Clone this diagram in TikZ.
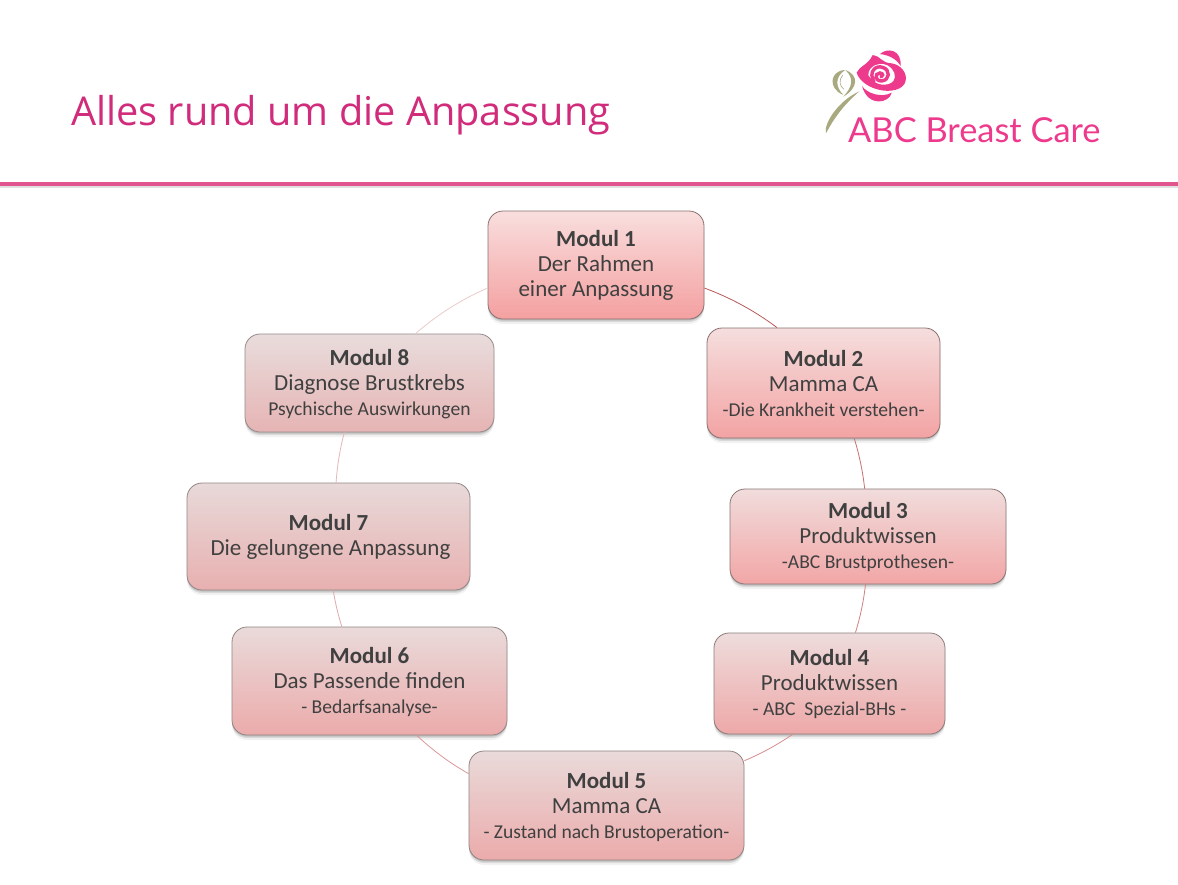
\documentclass[tikz,border=0pt]{standalone}
\usepackage{fontspec}
\setmainfont{Carlito}
\newfontfamily\titlefont{Open Sans}
\newfontfamily\logofont{Lato}
\usetikzlibrary{shadows}
\definecolor{ink}{HTML}{404040}
\definecolor{titlepink}{HTML}{D12B7C}
\definecolor{logopink}{HTML}{EE3A8C}
\definecolor{logoolive}{HTML}{A9A97F}
\definecolor{rulepink}{HTML}{E0558F}
\newcommand{\lgfont}{\fontsize{23}{25}\selectfont}
\newcommand{\smfont}{\fontsize{19.6}{25}\selectfont}
\newcommand{\topstrut}[1]{\rule{0pt}{#1pt}}
\definecolor{c1t}{HTML}{F9DEDE}\definecolor{c1b}{HTML}{F4A0A0}\definecolor{c1d}{HTML}{8A7070}
\definecolor{c2t}{HTML}{F5DEDE}\definecolor{c2b}{HTML}{F3A3A3}
\definecolor{c3t}{HTML}{F1DCDC}\definecolor{c3b}{HTML}{F2A6A6}\definecolor{c3d}{HTML}{8A7676}
\definecolor{c4t}{HTML}{EEDCDC}\definecolor{c4b}{HTML}{EEA8A8}\definecolor{c4d}{HTML}{8C7C7C}
\definecolor{c5t}{HTML}{EADADA}\definecolor{c5b}{HTML}{EBABAB}\definecolor{c5d}{HTML}{928484}
\definecolor{c7t}{HTML}{E8D9D9}\definecolor{c7b}{HTML}{E8B0B0}\definecolor{c7d}{HTML}{928686}
\definecolor{c8t}{HTML}{E9DCDC}\definecolor{c8b}{HTML}{E6B4B4}\definecolor{c8d}{HTML}{968A8A}
\definecolor{l1}{HTML}{B85A5A}\definecolor{l2}{HTML}{C87070}\definecolor{l3}{HTML}{D08080}\definecolor{l4}{HTML}{D88C8C}
\definecolor{l5}{HTML}{DC9898}\definecolor{l6}{HTML}{E0A8A8}\definecolor{l7}{HTML}{E4B8B8}\definecolor{l8}{HTML}{EBCCCC}
\tikzset{
  modbox/.style args={#1/#2/#3/#4}{rounded corners=15pt, draw=#4, line width=.8pt,
    top color=#2, bottom color=#3, minimum width=#1pt, inner sep=0pt, align=center,
    text=ink, font=\lgfont,
    drop shadow={shadow xshift=0pt,shadow yshift=-1.5pt,opacity=.12,fill=black},
    drop shadow={shadow xshift=0pt,shadow yshift=-3pt,opacity=.10,fill=black},
    drop shadow={shadow xshift=0pt,shadow yshift=-5pt,opacity=.05,fill=black}},
  link/.style={line width=.8pt, looseness=.85, bend left=#1},
}
\begin{document}
\begin{tikzpicture}[x=1pt,y=-1pt]
\useasboundingbox (0,0) rectangle (1178,884);
\fill[white] (0,0) rectangle (1178,884);
\node[anchor=base west, inner sep=0pt, text=titlepink, font=\titlefont\fontsize{39.7}{42}\selectfont] (title) at (71,125) {Alles rund um die Anpassung};
\node[anchor=base west, inner sep=0pt, text=logopink, font=\logofont\fontsize{34.4}{40}\selectfont] (logotext) at (848,142) {ABC Breast Care};
% rule
\fill[black!12] (0,185) rectangle (1178,188);
\fill[rulepink] (0,182) rectangle (1178,185.5);
% logo
\begin{scope}[shift={(800,30)},x=.3333pt,y=-.3333pt]
 \fill[logoolive] (78,310) .. controls (70,285) and (110,215) .. (178,184) .. controls (128,228) and (102,265) .. (78,310) -- cycle;
 \fill[logoolive] (135,120) .. controls (90,122) and (82,175) .. (130,195) .. controls (106,170) and (104,142) .. (135,120) -- cycle;
 \fill[logoolive] (136,120) .. controls (178,135) and (174,175) .. (130,200) .. controls (156,172) and (164,145) .. (136,120) -- cycle;
 \draw[logoolive,line width=.6pt] (128,135) .. controls (116,150) and (118,168) .. (132,178);
 \fill[logopink] (240,72) .. controls (262,52) and (305,58) .. (302,108) .. controls (290,88) and (270,76) .. (240,72) -- cycle;
 \fill[logopink] (170,128) .. controls (178,108) and (205,105) .. (218,75) .. controls (240,76) and (245,100) .. (275,100) .. controls (302,104) and (322,128) .. (317,152) .. controls (312,180) and (270,187) .. (240,180) .. controls (210,174) and (178,155) .. (170,128) -- cycle;
 \fill[white] (205,135) .. controls (205,107) and (240,95) .. (262,106) .. controls (284,118) and (290,140) .. (280,153) .. controls (265,170) and (225,170) .. (205,135) -- cycle;
 \fill[logopink] (186,168) .. controls (200,190) and (245,205) .. (275,188) .. controls (270,218) and (205,235) .. (186,168) -- cycle;
 \draw[logopink,line width=3.4pt,line cap=round] (222,155) .. controls (205,128) and (225,104) .. (248,112) .. controls (272,120) and (270,150) .. (245,153) .. controls (225,154) and (222,130) .. (240,129) .. controls (250,129) and (250,140) .. (243,141);
\end{scope}
% modules
\node[modbox={216/c1t/c1b/c1d}, minimum height=108pt] (m1) at (596,265) {\textbf{Modul 1}\\Der Rahmen\\einer Anpassung};
\node[modbox={233/c2t/c2b/c1d}, minimum height=110pt] (m2) at (823.5,383) {\textbf{Modul 2}\\Mamma CA\\\smfont -Die Krankheit verstehen-};
\node[modbox={276/c3t/c3b/c3d}, minimum height=95pt] (m3) at (868,536.5) {\topstrut{18}\textbf{Modul 3}\\Produktwissen\\\smfont -ABC Brustprothesen-};
\node[modbox={231/c4t/c4b/c4d}, minimum height=101pt] (m4) at (829.5,683.5) {\topstrut{18}\textbf{Modul 4}\\Produktwissen\\\smfont - ABC\ \ Spezial-BHs -};
\node[modbox={275/c5t/c5b/c5d}, minimum height=109pt] (m5) at (606.5,805.5) {\topstrut{19}\textbf{Modul 5}\\Mamma CA\\\smfont - Zustand nach Brustoperation-};
\node[modbox={275/c5t/c5b/c5d}, minimum height=108pt] (m6) at (369.5,681) {\topstrut{19}\textbf{Modul 6}\\Das Passende finden\\\smfont - Bedarfsanalyse-};
\node[modbox={283/c7t/c7b/c7d}, minimum height=107pt] (m7) at (328.5,536.5) {\textbf{Modul 7}\\\hspace*{4pt}Die gelungene Anpassung};
\node[modbox={249/c8t/c8b/c8d}, minimum height=98pt] (m8) at (369.5,383) {\topstrut{19}\textbf{Modul 8}\\Diagnose Brustkrebs\\\smfont Psychische Auswirkungen};
% links
\draw[link=8.4,draw=l1] (m1.-12.9) to (m2.130.9);
\draw[link=5.5,draw=l2] (m2.-61.8) to (m3.94.8);
\draw[link=5.5,draw=l3] (m3.-93.6) to (m4.63.2);
\draw[link=5.8,draw=l4] (m4.-126.6) to (m5.18.3);
\draw[link=7,draw=l5] (m5.167.5) to (m6.-49.3);
\draw[link=4,draw=l6] (m6.117) to (m7.-85.2);
\draw[link=5.5,draw=l7] (m7.82) to (m8.-117.5);
\draw[link=9,draw=l8] (m8.47.1) to (m1.-168.5);
\end{tikzpicture}
\end{document}
